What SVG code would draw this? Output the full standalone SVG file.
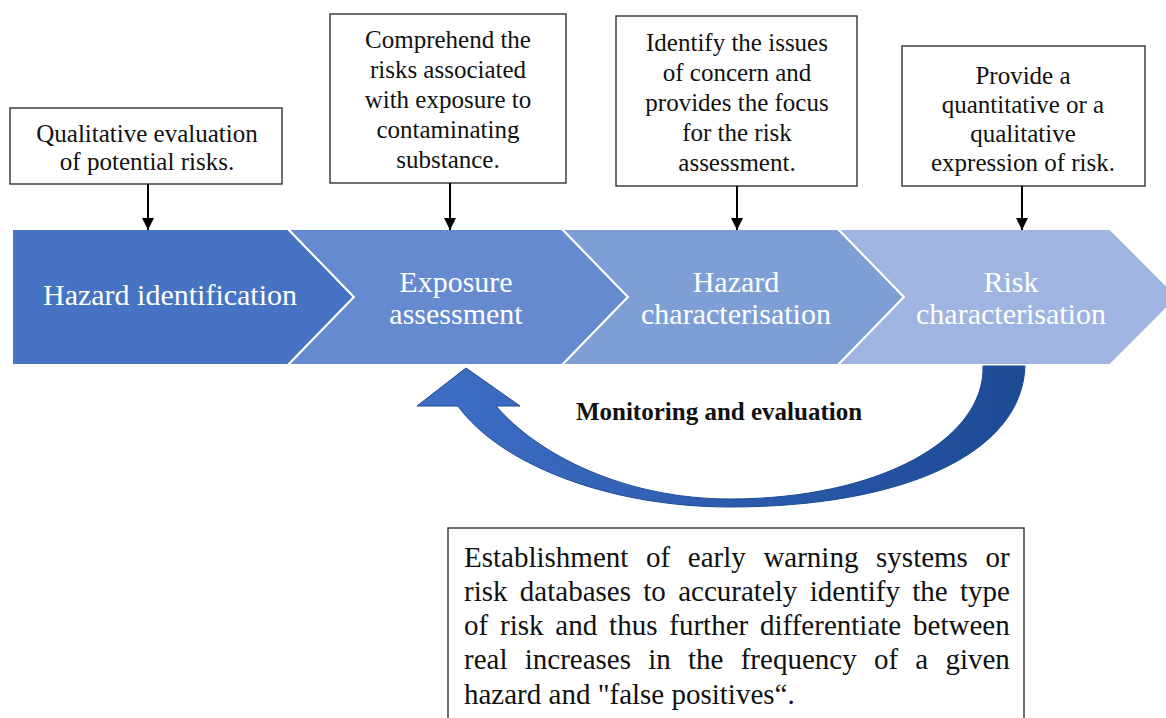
<svg xmlns="http://www.w3.org/2000/svg" width="1166" height="718" viewBox="0 0 1166 718">
<defs>
<style>
.box{fill:#fff;stroke:#222;stroke-width:1.3}
.bt{font-size:25px;fill:#111;text-anchor:middle}
.ct{font-size:30px;fill:#fff;text-anchor:middle}
.chev{stroke:#fff;stroke-width:2}
.conn{stroke:#000;stroke-width:2;fill:none;marker-end:url(#ah)}
.lt{font-size:29px;fill:#111}
</style>
<marker id="ah" viewBox="0 0 10 10" refX="10" refY="5" markerWidth="6" markerHeight="6" markerUnits="strokeWidth" orient="auto">
<path d="M0,0 L10,5 L0,10 z" fill="#000"/>
</marker>
<linearGradient id="cg" x1="0" y1="0" x2="1" y2="0">
<stop offset="0" stop-color="#3F6FC5"/>
<stop offset="0.5" stop-color="#2D5CB0"/>
<stop offset="1" stop-color="#1D4A95"/>
</linearGradient>
</defs>
<rect width="1166" height="718" fill="#fff"/>
<g font-family="'Liberation Serif', serif">

<g id="band">
<g id="hazard-identification">
<polygon class="chev" fill="#4673C4" points="12,229 288,229 354,297 288,365 12,365"/>
<text class="ct" x="170" y="305">Hazard identification</text>
</g>
<g id="exposure-assessment">
<polygon class="chev" fill="#668ACF" points="288,229 562,229 628,297 562,365 288,365 354,297"/>
<text class="ct" x="456" y="292">Exposure</text>
<text class="ct" x="456" y="324">assessment</text>
</g>
<g id="hazard-characterisation">
<polygon class="chev" fill="#7E9FD6" points="562,229 838,229 904,297 838,365 562,365 628,297"/>
<text class="ct" x="736" y="292">Hazard</text>
<text class="ct" x="736" y="324">characterisation</text>
</g>
<g id="risk-characterisation">
<polygon class="chev" fill="#9FB4E0" points="838,229 1110,229 1178,297 1110,365 838,365 904,297"/>
<text class="ct" x="1011" y="292">Risk</text>
<text class="ct" x="1011" y="324">characterisation</text>
</g>
</g>

<g id="box1">
<rect class="box" x="10" y="108" width="272" height="76"/>
<text class="bt" x="147" y="142">Qualitative evaluation</text>
<text class="bt" x="147" y="170">of potential risks.</text>
</g>
<g id="box2">
<rect class="box" x="330" y="14" width="236" height="169"/>
<text class="bt" x="448" y="48">Comprehend the</text>
<text class="bt" x="448" y="78">risks associated</text>
<text class="bt" x="448" y="108">with exposure to</text>
<text class="bt" x="448" y="138">contaminating</text>
<text class="bt" x="448" y="168">substance.</text>
</g>
<g id="box3">
<rect class="box" x="616" y="16" width="241" height="170"/>
<text class="bt" x="737" y="51">Identify the issues</text>
<text class="bt" x="737" y="81">of concern and</text>
<text class="bt" x="737" y="111">provides the focus</text>
<text class="bt" x="737" y="141">for the risk</text>
<text class="bt" x="737" y="171">assessment.</text>
</g>
<g id="box4">
<rect class="box" x="902" y="46" width="243" height="140"/>
<text class="bt" x="1023" y="84">Provide a</text>
<text class="bt" x="1023" y="113">quantitative or a</text>
<text class="bt" x="1023" y="142">qualitative</text>
<text class="bt" x="1023" y="171">expression of risk.</text>
</g>

<g id="connectors">
<line class="conn" x1="148" y1="184" x2="148" y2="230"/>
<line class="conn" x1="450" y1="183" x2="450" y2="230"/>
<line class="conn" x1="737" y1="186" x2="737" y2="230"/>
<line class="conn" x1="1022" y1="186" x2="1022" y2="230"/>
<path id="feedback-arrow" fill="url(#cg)" stroke="#1D4A95" stroke-width="1" d="M1025,366 C1022,455 900,507 730,507 C605,507 498,462 458,406 L417,406 L466,368 L520,406 L496,406 C538,455 625,499 730,499 C878,499 985,440 983,366 Z"/>
<text x="719" y="420" text-anchor="middle" font-size="25" font-weight="bold" fill="#111">Monitoring and evaluation</text>
</g>

<g id="bottom-box">
<rect class="box" x="448" y="528" width="576" height="196"/>
<text class="lt" x="464" y="567" word-spacing="10.4">Establishment of early warning systems or</text>
<text class="lt" x="464" y="601" word-spacing="5.1">risk databases to accurately identify the type</text>
<text class="lt" x="464" y="635" word-spacing="4.6">of risk and thus further differentiate between</text>
<text class="lt" x="464" y="669" word-spacing="10">real increases in the frequency of a given</text>
<text class="lt" x="464" y="704">hazard and "false positives“.</text>
</g>
</g>
</svg>
